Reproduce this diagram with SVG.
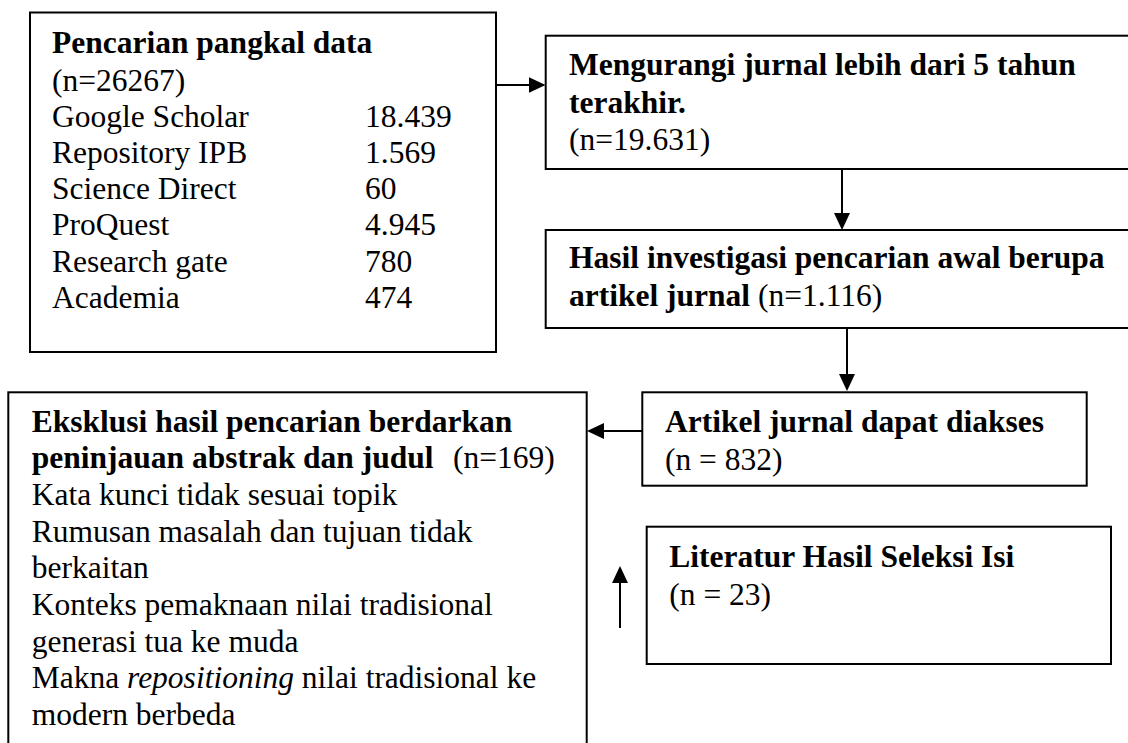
<svg xmlns="http://www.w3.org/2000/svg" width="1128" height="743" viewBox="0 0 1128 743">
<defs>
<style>
.box{fill:#fff;stroke:#000;stroke-width:2}
.t{font-family:"Liberation Serif","Times New Roman",serif;font-size:31.5px;fill:#000}
.b{font-weight:bold}
.c{fill:none;stroke:#000;stroke-width:2}
</style>
<marker id="ah" markerUnits="userSpaceOnUse" markerWidth="18" markerHeight="17" refX="15" refY="8" orient="auto">
<path d="M0,0 L17,8 L0,16 z" fill="#000"/>
</marker>
</defs>
<rect width="1128" height="743" fill="#fff"/>
<g id="connectors">
<line class="c" x1="496" y1="85" x2="543.5" y2="85" marker-end="url(#ah)"/>
<line class="c" x1="842" y1="169" x2="842" y2="228" marker-end="url(#ah)"/>
<line class="c" x1="847" y1="328" x2="847" y2="389" marker-end="url(#ah)"/>
<line class="c" x1="642" y1="431" x2="589" y2="431" marker-end="url(#ah)"/>
<line class="c" x1="620" y1="628" x2="620" y2="568" marker-end="url(#ah)"/>
</g>
<g id="node-pencarian">
<rect class="box" x="30" y="12.5" width="466" height="339.5"/>
<text class="t b" x="52" y="53">Pencarian pangkal data</text>
<text class="t" x="52" y="91">(n=26267)</text>
<text class="t" x="52" y="127">Google Scholar</text>
<text class="t" x="365" y="127">18.439</text>
<text class="t" x="52" y="163">Repository IPB</text>
<text class="t" x="365" y="163">1.569</text>
<text class="t" x="52" y="199">Science Direct</text>
<text class="t" x="365" y="199">60</text>
<text class="t" x="52" y="235">ProQuest</text>
<text class="t" x="365" y="235">4.945</text>
<text class="t" x="52" y="272">Research gate</text>
<text class="t" x="365" y="272">780</text>
<text class="t" x="52" y="308">Academia</text>
<text class="t" x="365" y="308">474</text>
</g>
<g id="node-mengurangi">
<rect class="box" x="545.7" y="35.7" width="600" height="133.3"/>
<text class="t b" x="569" y="75">Mengurangi jurnal lebih dari 5 tahun</text>
<text class="t b" x="569" y="113">terakhir.</text>
<text class="t" x="569" y="150">(n=19.631)</text>
</g>
<g id="node-hasil">
<rect class="box" x="545.7" y="230" width="600" height="98"/>
<text class="t b" x="569" y="268">Hasil investigasi pencarian awal berupa</text>
<text class="t" x="569" y="306"><tspan class="b">artikel jurnal</tspan> (n=1.116)</text>
</g>
<g id="node-artikel">
<rect class="box" x="642.3" y="392.3" width="444.4" height="93.4"/>
<text class="t b" x="665" y="431.7">Artikel jurnal dapat diakses</text>
<text class="t" x="665" y="470">(n = 832)</text>
</g>
<g id="node-eksklusi">
<rect class="box" x="8.3" y="392.3" width="578.4" height="400"/>
<text class="t b" x="31.7" y="431.7">Eksklusi hasil pencarian berdarkan</text>
<text class="t b" x="31.7" y="468.3">peninjauan  abstrak dan judul</text>
<text class="t" x="453" y="468.3">(n=169)</text>
<text class="t" x="31.7" y="505">Kata kunci tidak sesuai topik</text>
<text class="t" x="31.7" y="541.7">Rumusan masalah dan tujuan tidak</text>
<text class="t" x="31.7" y="578">berkaitan</text>
<text class="t" x="31.7" y="615">Konteks pemaknaan nilai tradisional</text>
<text class="t" x="31.7" y="651.7">generasi tua ke muda</text>
<text class="t" x="31.7" y="688.3">Makna <tspan font-style="italic">repositioning</tspan> nilai tradisional ke</text>
<text class="t" x="31.7" y="725">modern berbeda</text>
</g>
<g id="node-literatur">
<rect class="box" x="646.7" y="526.7" width="464.3" height="137.3"/>
<text class="t b" x="669.3" y="566.7">Literatur Hasil Seleksi Isi</text>
<text class="t" x="669.3" y="605">(n = 23)</text>
</g>
</svg>
